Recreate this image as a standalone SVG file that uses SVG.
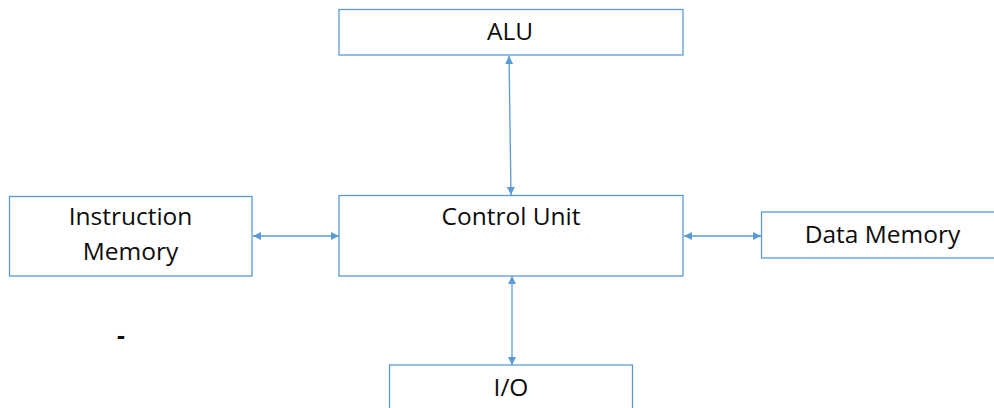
<svg xmlns="http://www.w3.org/2000/svg" width="994" height="408" viewBox="0 0 994 408">
  <style>
    .box { fill: #ffffff; stroke: #5b9bd5; stroke-width: 1.3; }
    .lbl { font-family: "Open Sans", "Noto Sans", sans-serif; font-size: 24.5px; fill: #0d0d0d; text-anchor: middle; }
    .link { stroke: #5b9bd5; stroke-width: 1.3; fill: none; marker-start: url(#head); marker-end: url(#head); }
  </style>
  <defs>
    <marker id="head" viewBox="0 0 10 10" refX="10" refY="5" markerWidth="9" markerHeight="8" markerUnits="userSpaceOnUse" orient="auto-start-reverse">
      <path d="M0,0 L10,5 L0,10 Z" fill="#5b9bd5"/>
    </marker>
  </defs>
  <rect width="994" height="408" fill="#ffffff"/>

  <g id="connectors">
    <line class="link" x1="509" y1="56" x2="511" y2="195"/>
    <line class="link" x1="253" y1="236" x2="339" y2="236"/>
    <line class="link" x1="684" y1="236" x2="761" y2="236"/>
    <line class="link" x1="512" y1="276" x2="512" y2="365"/>
  </g>

  <g id="alu">
    <rect class="box" x="339" y="9.5" width="344" height="45.5"/>
    <text class="lbl" x="510" y="40">ALU</text>
  </g>
  <g id="control-unit">
    <rect class="box" x="339" y="195.5" width="344" height="80.5"/>
    <text class="lbl" x="511" y="225">Control Unit</text>
  </g>
  <g id="instruction-memory">
    <rect class="box" x="9.5" y="196.5" width="242.5" height="79.5"/>
    <text class="lbl" x="130.5" y="225">Instruction</text>
    <text class="lbl" x="130.5" y="260">Memory</text>
  </g>
  <g id="data-memory">
    <rect class="box" x="761.5" y="212" width="240" height="46"/>
    <text class="lbl" x="882.5" y="243">Data Memory</text>
  </g>
  <g id="io">
    <rect class="box" x="389.5" y="365" width="243" height="60"/>
    <text class="lbl" x="511" y="396">I/O</text>
  </g>
  <text class="lbl" x="121" y="344" font-weight="bold">-</text>
</svg>
